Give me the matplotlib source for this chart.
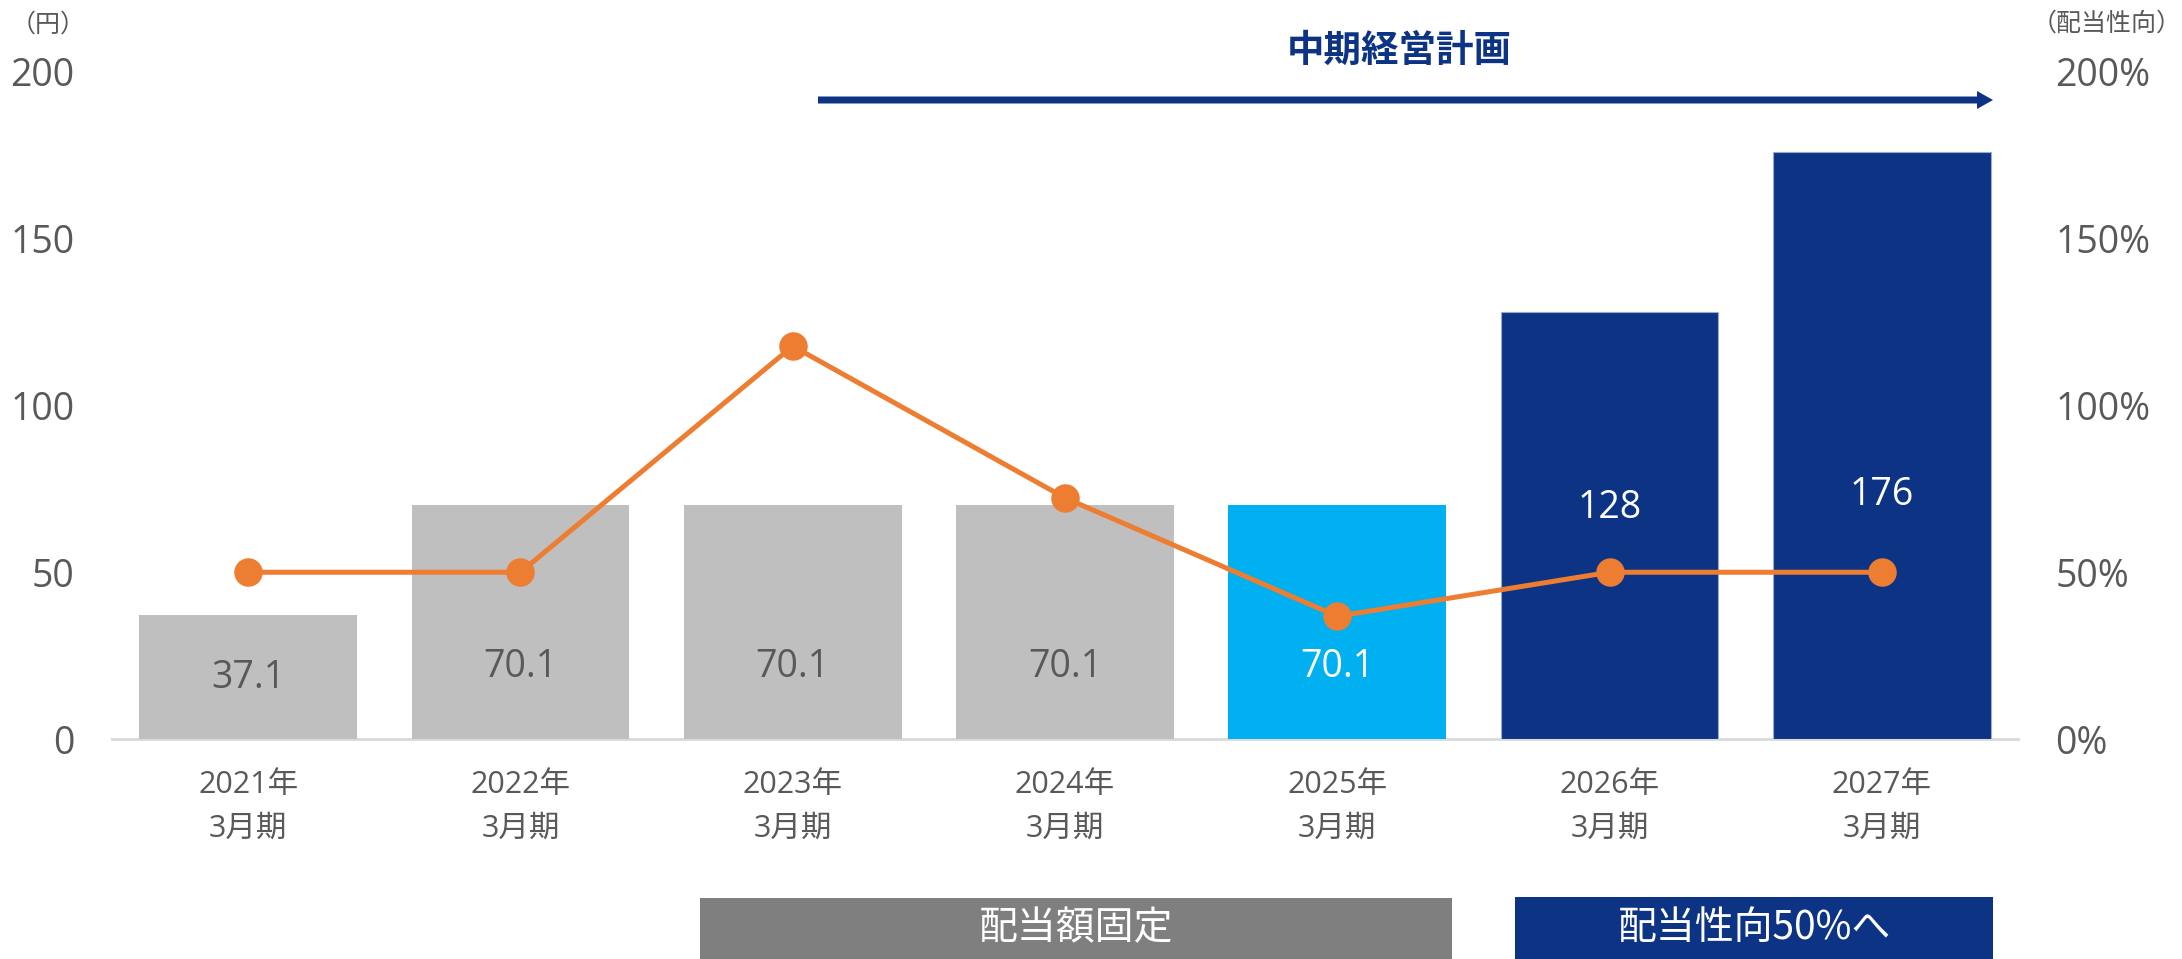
import matplotlib
matplotlib.use("Agg")
import matplotlib.pyplot as plt
from matplotlib.patches import Rectangle, FancyArrow

plt.rcParams['font.family'] = ['Open Sans', 'Noto Sans CJK JP', 'DejaVu Sans']

categories = ["2021年\n3月期", "2022年\n3月期", "2023年\n3月期", "2024年\n3月期",
              "2025年\n3月期", "2026年\n3月期", "2027年\n3月期"]
dividends = [37.1, 70.1, 70.1, 70.1, 70.1, 128, 176]
dividend_labels = ["37.1", "70.1", "70.1", "70.1", "70.1", "128", "176"]
payout_ratio = [50, 50, 117.8, 72.3, 36.8, 50, 50]
left_ticks = [0, 50, 100, 150, 200]
right_ticks = ["0%", "50%", "100%", "150%", "200%"]

bar_colors = ["#BFBFBF"] * 4 + ["#00B0F0"] + ["#0D3484"] * 2
bar_edges = ["none"] * 5 + ["#9AAACB"] * 2
label_colors = ["#595959"] * 4 + ["white"] * 3
label_y = [18.4, 21.7, 21.7, 21.7, 21.7, 69.3, 73.3]

W, H = 2182, 959
fig = plt.figure(figsize=(W / 100, H / 100), dpi=100)
ax = fig.add_axes([112 / W, (H - 739) / H, (2018 - 112) / W, (739 - 72) / H])

x = list(range(len(categories)))
ax.bar(x, dividends, width=0.8, color=bar_colors, edgecolor=bar_edges,
       linewidth=0.8, zorder=2)
for xi, ly, lab, c in zip(x, label_y, dividend_labels, label_colors):
    ax.text(xi, ly, lab, ha='center', va='center', fontsize=27, color=c, zorder=5)

ax.set_xlim(-0.5, len(categories) - 0.5)
ax.set_ylim(0, 200)
ax.set_yticks(left_ticks)
ax.set_yticklabels([str(t) for t in left_ticks])
ax.tick_params(axis='y', length=0, labelsize=27, labelcolor='#595959', pad=27)
ax.set_xticks(x)
ax.set_xticklabels(categories, fontsize=22, color='#595959', linespacing=1.6)
ax.tick_params(axis='x', length=0, pad=22)
for s in ['top', 'right', 'left']:
    ax.spines[s].set_visible(False)
ax.spines['bottom'].set_color('#D9D9D9')
ax.spines['bottom'].set_linewidth(2)
ax.spines['bottom'].set_zorder(1)

ax2 = ax.twinx()
ax2.set_ylim(0, 200)
ax2.plot(x, payout_ratio, color='#ED7D31', linewidth=3.6, marker='o',
         markersize=19.5, zorder=4)
ax2.set_yticks(left_ticks)
ax2.set_yticklabels(right_ticks)
ax2.tick_params(axis='y', length=0, labelsize=27, labelcolor='#595959', pad=27)
for s in ['top', 'right', 'left', 'bottom']:
    ax2.spines[s].set_visible(False)

# unit labels
fig.text(48 / W, 1 - 25 / H, "（円）", ha='center', va='center', fontsize=18,
         color='#595959', family=['Noto Sans CJK JP'])
fig.text(2107 / W, 1 - 24 / H, "（配当性向）", ha='center', va='center', fontsize=18,
         color='#595959', family=['Noto Sans CJK JP'])

# mid-term plan arrow and title
fig.text(1399 / W, 1 - 50 / H, "中期経営計画", ha='center', va='center', fontsize=27,
         fontweight='bold', color='#0D3484', family=['Noto Sans CJK JP'])
arr = FancyArrow(818 / W, 1 - 100 / H, (1993 - 818) / W, 0, width=7 / H,
                 head_width=18 / H, head_length=16 / W, length_includes_head=True,
                 transform=fig.transFigure, color='#0D3484', linewidth=0)
fig.patches.append(arr)

# bottom boxes
fig.patches.append(Rectangle((700 / W, 0), (1452 - 700) / W, (959 - 898) / H,
                             transform=fig.transFigure, color='#7F7F7F', linewidth=0))
fig.text((700 + 1452) / 2 / W, (959 - 928) / H, "配当額固定", ha='center', va='center',
         fontsize=28, color='white', family=['Noto Sans CJK JP'])
fig.patches.append(Rectangle((1515 / W, 0), (1993 - 1515) / W, (959 - 897) / H,
                             transform=fig.transFigure, color='#0D3484', linewidth=0))
fig.text((1515 + 1993) / 2 / W, (959 - 928) / H, "配当性向50%へ", ha='center', va='center',
         fontsize=28, color='white', family=['Noto Sans CJK JP'])

fig.savefig("out.png", dpi=100)
